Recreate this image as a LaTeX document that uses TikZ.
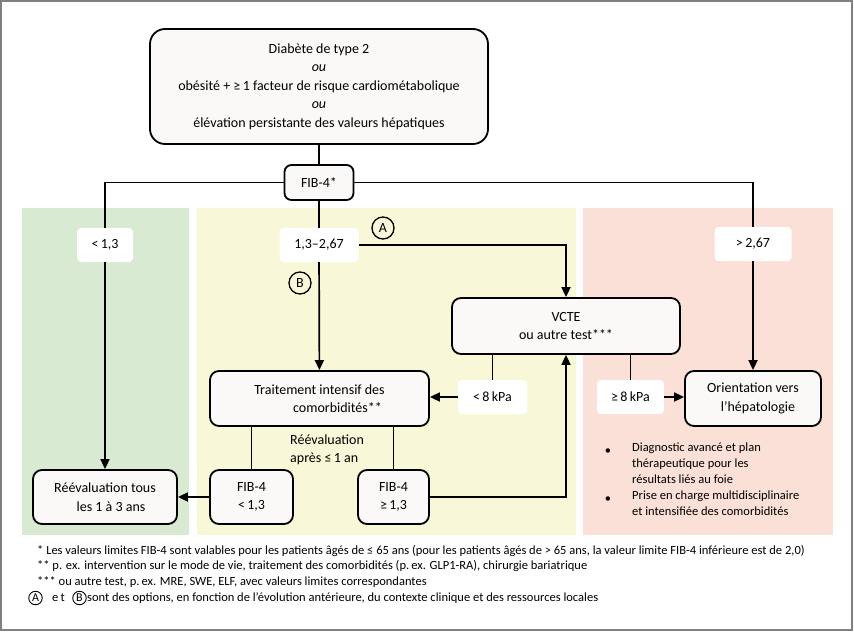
\documentclass[tikz,border=0pt]{standalone}
\usepackage{fontspec}
\setmainfont{Carlito}
\usetikzlibrary{arrows.meta}
\definecolor{pgreen}{RGB}{217,234,211}
\definecolor{pyellow}{RGB}{248,247,216}
\definecolor{ppink}{RGB}{250,224,214}
\definecolor{boxfill}{RGB}{250,249,247}
\definecolor{frame}{RGB}{128,128,128}
\tikzset{
  box/.style={draw, line width=1.8pt, rounded corners=9pt, fill=boxfill, align=center, inner sep=0pt, font=\fontsize{14}{18.5}\selectfont},
  lbl/.style={fill=white, rounded corners=4pt, inner sep=0pt, font=\fontsize{14}{16}\selectfont},
  conn/.style={line width=1.7pt},
  arr/.style={line width=1.7pt, -{Triangle[length=10pt,width=9pt]}},
  opt/.style={circle, draw, line width=1.3pt, minimum size=22pt, inner sep=0pt, font=\fontsize{14}{16}\selectfont},
  optsm/.style={circle, draw, line width=0.9pt, minimum size=13.5pt, inner sep=0pt, font=\fontsize{12}{13}\selectfont},
  fn/.style={inner sep=0pt, font=\fontsize{12.5}{14}\selectfont},
  bul/.style={inner sep=0pt, align=left, font=\fontsize{12.5}{16}\selectfont},
}
\begin{document}
\begin{tikzpicture}[x=1pt,y=-1pt]
\useasboundingbox (0,0) rectangle (854,632);
\draw[frame, line width=1.5pt] (1,1) rectangle (852,630);
% panels
\fill[pgreen] (22,208) rectangle (189,535);
\fill[pyellow] (197,208) rectangle (576,535);
\fill[ppink] (583,208) rectangle (833,535);
% nodes
\node[box, minimum width=338pt, minimum height=115pt, rounded corners=15pt] (top) at (319,86.5)
  {Diabète de type 2\\\textit{ou}\\obésité + ≥\,1 facteur de risque cardiométabolique\\\textit{ou}\\élévation persistante des valeurs hépatiques};
\node[box, minimum width=69pt, minimum height=35pt, rounded corners=7pt] (fib) at (319,182.5) {FIB-4*};
\node[lbl, minimum width=56pt, minimum height=34pt] (lt13) at (105,245) {<\,1,3};
\node[lbl, minimum width=79pt, minimum height=34pt] (mid) at (319,245) {1,3–2,67};
\node[lbl, minimum width=77pt, minimum height=34pt] (gt267) at (753,244) {>\,2,67};
\node[opt] (optA) at (383,228) {A};
\node[opt] (optB) at (300,283) {B};
\node[box, minimum width=228pt, minimum height=56pt] (vcte) at (566,326) {VCTE\\ou autre test***};
\node[box, minimum width=219pt, minimum height=55pt] (trait) at (319.5,398.5) {Traitement intensif des\\\hspace*{36pt}comorbidités**};
\node[lbl, minimum width=69pt, minimum height=34pt] (lt8) at (492.5,397) {<\,8\,kPa};
\node[lbl, minimum width=67pt, minimum height=34pt] (ge8) at (630.5,397) {≥\,8\,kPa};
\node[box, minimum width=136pt, minimum height=55pt] (orient) at (753,398.5) {Orientation vers\\\hspace*{10pt}l’hépatologie};
\node[box, minimum width=144pt, minimum height=54pt] (reev) at (105,497) {Réévaluation tous\\\hspace*{12pt}les 1 à 3 ans};
\node[box, minimum width=83pt, minimum height=54pt] (fiblt) at (251.5,497) {FIB-4\\<\,1,3};
\node[box, minimum width=71pt, minimum height=54pt] (fibge) at (393.5,497) {FIB-4\\≥\,1,3};
\node[bul, anchor=west, font=\fontsize{14}{18}\selectfont] (reeval) at (290,450) {Réévaluation\\après ≤\,1 an};
% bullets
\node[bul] (b1) at (608,452) {•};
\node[bul, anchor=north west] (b1t) at (632,443) {Diagnostic avancé et plan\\thérapeutique pour les\\résultats liés au foie};
\node[bul] (b2) at (608,500) {•};
\node[bul, anchor=north west] (b2t) at (632,491) {Prise en charge multidisciplinaire\\et intensifiée des comorbidités};
% connectors
\draw[conn] (top) -- (fib);
\draw[conn] (fib.west) -| (lt13.north);
\draw[arr] (lt13) -- (reev);
\draw[conn] (fib.east) -| (gt267.north);
\draw[arr] (gt267) -- (orient);
\draw[conn] (fib) -- (mid);
\draw[arr] (mid) -- (trait);
\draw[arr] (mid.east) -| (vcte.north);
\draw[conn] (lt8.north |- vcte.south) -- (lt8.north);
\draw[arr] (lt8.west) -- (lt8.west -| trait.east);
\draw[conn] (ge8.north |- vcte.south) -- (ge8.north);
\draw[arr] (ge8.east) -- (ge8.east -| orient.west);
\draw[conn] (fiblt.north |- trait.south) -- (fiblt.north);
\draw[conn] (fibge.north |- trait.south) -- (fibge.north);
\draw[arr] (fiblt.west) -- (fiblt.west -| reev.east);
\draw[arr] (fibge.east) -| (vcte.south);
% footnotes
\node[fn, anchor=west] (f1) at (37,551) {* Les valeurs limites FIB-4 sont valables pour les patients âgés de ≤ 65 ans (pour les patients âgés de > 65 ans, la valeur limite FIB-4 inférieure est de 2,0)};
\node[fn, anchor=west] (f2) at (37,566) {** p. ex. intervention sur le mode de vie, traitement des comorbidités (p.\,ex. GLP1-RA), chirurgie bariatrique};
\node[fn, anchor=west] (f3) at (37,582) {*** ou autre test, p.\,ex. MRE, SWE, ELF, avec valeurs limites correspondantes};
\node[optsm] (fa) at (35.5,598) {A};
\node[fn, anchor=west] (fet) at (52,598) {e\,t};
\node[optsm] (fb) at (79.5,598) {B};
\node[fn, anchor=west] (f4) at (87,598) {sont des options, en fonction de l’évolution antérieure, du contexte clinique et des ressources locales};
\end{tikzpicture}
\end{document}
